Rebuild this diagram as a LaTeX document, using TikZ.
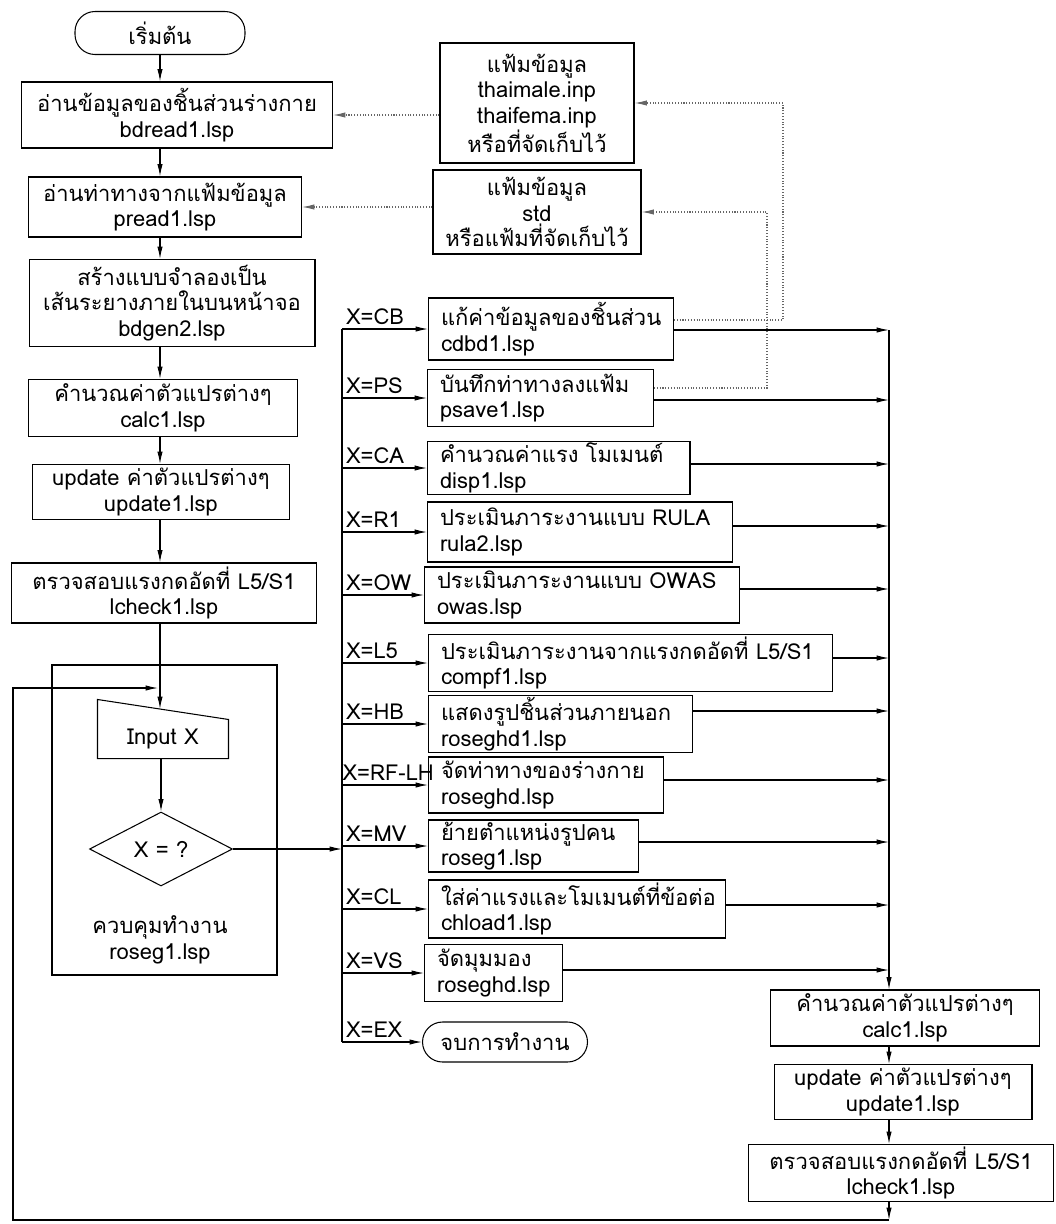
\documentclass[tikz,border=0pt]{standalone}
\usepackage{fontspec}
\setmainfont{Loma}[Script=Thai]
\usetikzlibrary{arrows.meta, calc, shapes.geometric}

\begin{document}
\begin{tikzpicture}[x=0.02cm, y=-0.02cm, line width=0.6pt,
    font=\fontsize{12.5}{14.5}\selectfont,
    arr/.style={-{Latex[length=7pt,width=3pt]}},
    dots/.style={densely dotted, draw=black!60},
    box/.style={draw, align=center, inner sep=1pt},
    brbox/.style={draw, anchor=west, align=left, inner xsep=0.25cm, inner ysep=1pt},
    lbl/.style={above right, inner sep=2pt},
    term/.style={draw, rounded corners=0.4cm, inner sep=1pt}]
\useasboundingbox (0,0) rectangle (1055,1224);

        % main column
        \node[term, minimum width=3.4cm, minimum height=0.86cm] (st) at (160,33) {เริ่มต้น};
        \node[box, minimum width=6.22cm, minimum height=1.32cm] (b1) at (177,115) {อ่านข้อมูลของชิ้นส่วนร่างกาย\\bdread1.lsp};
        \node[box, minimum width=5.46cm, minimum height=1.2cm] (b2) at (165,207) {อ่านท่าทางจากแฟ้มข้อมูล\\pread1.lsp};
        \node[box, minimum width=5.72cm, minimum height=1.74cm] (b3) at (172,303) {สร้างแบบจำลองเป็น\\เส้นระยางภายในบนหน้าจอ\\bdgen2.lsp};
        \node[box, minimum width=5.38cm, minimum height=1.14cm] (b4) at (163,408) {คำนวณค่าตัวแปรต่างๆ\\calc1.lsp};
        \node[box, minimum width=5.14cm, minimum height=1.1cm] (b5) at (161,492) {update ค่าตัวแปรต่างๆ\\update1.lsp};
        \node[box, minimum width=6.1cm, minimum height=1.2cm] (b6) at (164,593) {ตรวจสอบแรงกดอัดที่ L5/S1\\lcheck1.lsp};

        \draw[arr] (st) -- (st |- b1.north);
        \draw[arr] (b1.south -| st) -- (b2.north -| st);
        \draw[arr] (b2.south -| st) -- (b3.north -| st);
        \draw[arr] (b3.south -| st) -- (b4.north -| st);
        \draw[arr] (b4.south -| st) -- (b5.north -| st);
        \draw[arr] (b5.south -| st) -- (b6.north -| st);

        % data files
        \node[box, minimum width=3.88cm, minimum height=2.4cm] (d1) at (537,103) {แฟ้มข้อมูล\\thaimale.inp\\thaifema.inp\\หรือที่จัดเก็บไว้};
        \node[box, minimum width=4.16cm, minimum height=1.68cm] (d2) at (537,212) {แฟ้มข้อมูล\\std\\หรือแฟ้มที่จัดเก็บไว้};
        \draw[dots, arr] (d1.west |- b1.east) -- (b1.east);
        \draw[dots, arr] (d2.west |- b2.east) -- (b2.east);

        % control block
        \draw (52,665) rectangle (277,975);
        \node[minimum width=2.6cm, minimum height=0.76cm, inner sep=0] (inp) at (163,739) {Input X};
        \draw (inp.north east) -- (inp.south east) -- (inp.south west) -- ([yshift=0.4cm]inp.north west) -- cycle;
        \coordinate (intop) at (160,709);
        \coordinate (lpin) at (158,688);
        \draw[arr] (b6.south -| st) -- (intop);
        \node[draw, diamond, minimum width=2.86cm, minimum height=1.48cm, inner sep=0] (dia) at (161,849) {X = ?};
        \draw[arr] (inp.south -| dia) -- (dia);
        \node (ctl) at (160,940) [align=center] {ควบคุมทำงาน\\roseg1.lsp};

        % branches
        \coordinate (bt) at (342,329);
        \coordinate (bb) at (342,1042);
        \draw (bt) -- (bb);
        \draw[arr] (dia) -- (dia -| bt);

        \node[brbox, text width=4.4cm, minimum height=1.24cm] (cb) at (428,329) {แก้ค่าข้อมูลของชิ้นส่วน\\cdbd1.lsp};
        \node[brbox, text width=4.02cm, minimum height=1.14cm] (ps) at (427,398) {บันทึกท่าทางลงแฟ้ม\\psave1.lsp};
        \node[brbox, text width=4.75cm, minimum height=1.06cm] (ca) at (427,468) {คำนวณค่าแรง โมเมนต์\\disp1.lsp};
        \node[brbox, text width=5.6cm, minimum height=1.2cm] (r1) at (427,532) {ประเมินภาระงานแบบ RULA\\rula2.lsp};
        \node[brbox, text width=5.8cm, minimum height=1.12cm] (ow) at (424,595) {ประเมินภาระงานแบบ OWAS\\owas.lsp};
        \node[brbox, text width=7.58cm, minimum height=1.14cm] (l5) at (428,663) {ประเมินภาระงานจากแรงกดอัดที่ L5/S1\\compf1.lsp};
        \node[brbox, text width=4.78cm, minimum height=1.04cm] (hb) at (428,724) {แสดงรูปชิ้นส่วนภายนอก\\roseghd1.lsp};
        \node[brbox, text width=4.2cm, minimum height=1.12cm] (rf) at (428,785) {จัดท่าทางของร่างกาย\\roseghd.lsp};
        \node[brbox, text width=3.7cm, minimum height=1.04cm] (mv) at (428,846) {ย้ายตำแหน่งรูปคน\\roseg1.lsp};
        \node[brbox, text width=5.44cm, minimum height=1.16cm] (cl) at (428,909) {ใส่ค่าแรงและโมเมนต์ที่ข้อต่อ\\chload1.lsp};
        \node[brbox, text width=2.26cm, minimum height=1.14cm] (vs) at (424,973) {จัดมุมมอง\\roseghd.lsp};
        \node[term, anchor=west, minimum width=3.3cm, minimum height=0.8cm] (ex) at (422,1042) {จบการทำงาน};

        \draw[arr] (bt |- cb.west) node[lbl]{X=CB} -- (cb.west);
        \draw[arr] (bt |- ps.west) node[lbl]{X=PS} -- (ps.west);
        \draw[arr] (bt |- ca.west) node[lbl]{X=CA} -- (ca.west);
        \draw[arr] (bt |- r1.west) node[lbl]{X=R1} -- (r1.west);
        \draw[arr] (bt |- ow.west) node[lbl]{X=OW} -- (ow.west);
        \draw[arr] (bt |- l5.west) node[lbl]{X=L5} -- (l5.west);
        \draw[arr] (bt |- hb.west) node[lbl]{X=HB} -- (hb.west);
        \draw[arr] (bt |- rf.west) node[lbl, inner xsep=0pt]{X=RF-LH} -- (rf.west);
        \draw[arr] (bt |- mv.west) node[lbl]{X=MV} -- (mv.west);
        \draw[arr] (bt |- cl.west) node[lbl]{X=CL} -- (cl.west);
        \draw[arr] (bt |- vs.west) node[lbl]{X=VS} -- (vs.west);
        \draw[arr] (bt |- ex.west) node[lbl]{X=EX} -- (ex.west);

        % saving back to the files
        \draw[dots, arr] (cb.east |- 0,320) -- (783,320) |- (d1.east);
        \draw[dots, arr] (ps.east |- 0,388) -- (767,388) |- (d2.east);

        % collector on the right
        \coordinate (ct) at (889,330);
        \node[box, minimum width=5.38cm, minimum height=1.12cm] (c2) at (905,1018) {คำนวณค่าตัวแปรต่างๆ\\calc1.lsp};
        \node[box, minimum width=5.16cm, minimum height=1.1cm] (u2) at (903,1092) {update ค่าตัวแปรต่างๆ\\update1.lsp};
        \node[box, minimum width=6.1cm, minimum height=1.14cm] (l2) at (901,1173) {ตรวจสอบแรงกดอัดที่ L5/S1\\lcheck1.lsp};
        \draw[arr] (ct) -- (c2.north -| ct);
        \draw[arr] (cb.east |- 0,330) -- (ct |- 0,330);
        \draw[arr] (ps.east |- 0,400) -- (ct |- 0,400);
        \draw[arr] (ca.east |- 0,464) -- (ct |- 0,464);
        \draw[arr] (r1.east |- 0,526) -- (ct |- 0,526);
        \draw[arr] (ow.east |- 0,589) -- (ct |- 0,589);
        \draw[arr] (l5.east |- 0,658) -- (ct |- 0,658);
        \draw[arr] (hb.east |- 0,711) -- (ct |- 0,711);
        \draw[arr] (rf.east |- 0,780) -- (ct |- 0,780);
        \draw[arr] (mv.east |- 0,842) -- (ct |- 0,842);
        \draw[arr] (cl.east |- 0,905) -- (ct |- 0,905);
        \draw[arr] (vs.east |- 0,970) -- (ct |- 0,970);
        \draw[arr] (c2.south -| ct) -- (u2.north -| ct);
        \draw[arr] (u2.south -| ct) -- (l2.north -| ct);

        % back to input
        \coordinate (lbot) at (889,1220);
        \draw[arr] (l2.south -| ct) -- (lbot);
        \draw[arr] (lbot) -| (13,688) -- (lpin);
\end{tikzpicture}
\end{document}
